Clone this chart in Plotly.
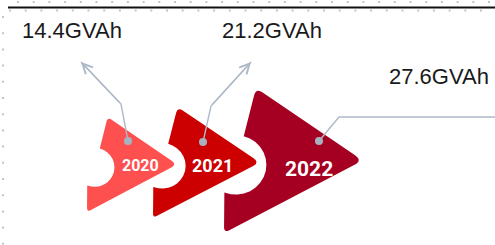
import numpy as np
import plotly.graph_objects as go

# ---------------- data ----------------
years = ["2020", "2021", "2022"]
capacity_gvah = [14.4, 21.2, 27.6]
unit = "GVAh"

# ---------------- style / layout ----------------
W, H = 495, 245
fill_colors = ["#FF5050", "#CC0000", "#A50021"]
boxes = [(87, 117, 90, 95), (153, 107, 107, 111), (224, 88, 139, 145)]  # x0, y0, w, h
halo = [3, 4, 5]
year_font_size = [16, 18, 21]
year_pos = [(140, 165), (212, 165), (309, 168.5)]
label_pos = [(72, 30), (272, 30), (439, 76.5)]
dot_pos = [(128, 141), (203, 142), (319, 141)]
bend_pos = [(121, 104), (211, 106), (339, 117)]
end_pos = [(81, 62), (251, 62), (495, 117)]
has_arrow = [True, True, False]
leader_color = "#AEB9C8"

# chevron template in box fractions
APEX = (0.23, 0.0)
TIP = (1.0, 0.50)
FOOT = (0.0, 1.0)
NOTCH_C = (0.085, 0.53)
NOTCH_R = (0.22, 0.205)
NOTCH_ANG = (-75.0, 112.0)


def P(b, fr):
    x0, y0, w, h = b
    return np.array([x0 + fr[0] * w, y0 + fr[1] * h])


def toward(p, q, r):
    d = q - p
    L = float(np.hypot(*d))
    return p + d * min(r / L, 0.45)


def f(p):
    return f"{p[0]:.2f},{p[1]:.2f}"


def chevron_path(b):
    x0, y0, w, h = b
    A, D, C = P(b, APEX), P(b, TIP), P(b, FOOT)
    c = P(b, NOTCH_C)
    rx, ry = NOTCH_R[0] * w, NOTCH_R[1] * h
    angs = np.radians(np.linspace(NOTCH_ANG[1], NOTCH_ANG[0], 16))
    arc = [np.array([c[0] + rx * np.cos(a), c[1] + ry * np.sin(a)]) for a in angs]
    N3, N1 = arc[0], arc[-1]
    s = w / 139.0
    rA, rD, rC = 8 * s, 10 * s, 6 * s
    start = toward(A, D, rA)
    parts = [
        "M" + f(start),
        "L" + f(toward(D, A, rD)),
        "Q" + f(D) + " " + f(toward(D, C, rD)),
        "L" + f(toward(C, D, rC)),
        "Q" + f(C) + " " + f(toward(C, N3, rC)),
    ]
    parts += ["L" + f(p) for p in arc]
    parts += [
        "L" + f(toward(A, N1, rA)),
        "Q" + f(A) + " " + f(start),
        "Z",
    ]
    return " ".join(parts)


fig = go.Figure()
shapes = []

# background guide dots
dot_x, dot_y = [], []
for x in np.arange(18, W, 15.7):
    dot_x.append(x); dot_y.append(2)
for x in np.arange(10, W, 15.7):
    dot_x.append(x); dot_y.append(10.5)
for y in np.arange(17, H, 16.2):
    dot_x.append(3); dot_y.append(y)
fig.add_trace(go.Scatter(x=dot_x, y=dot_y, mode="markers",
                         marker=dict(symbol="square", size=2, color="#C4C4C4"),
                         hoverinfo="skip", showlegend=False))

# top black rule
shapes.append(dict(type="line", xref="x", yref="y", x0=8, x1=W, y0=7.5, y1=7.5,
                   line=dict(color="#111111", width=2), layer="below"))

# chevrons
for i, yr in enumerate(years):
    path = chevron_path(boxes[i])
    shapes.append(dict(type="path", xref="x", yref="y", path=path,
                       fillcolor="white", line=dict(color="white", width=2 * halo[i]),
                       layer="below"))
    shapes.append(dict(type="path", xref="x", yref="y", path=path,
                       fillcolor=fill_colors[i], line=dict(width=0), layer="below"))

# leader lines
for i in range(len(years)):
    xs = [dot_pos[i][0], bend_pos[i][0], end_pos[i][0]]
    ys = [dot_pos[i][1], bend_pos[i][1], end_pos[i][1]]
    fig.add_trace(go.Scatter(x=xs, y=ys, mode="lines",
                             line=dict(color=leader_color, width=1.4),
                             hoverinfo="skip", showlegend=False))
fig.add_trace(go.Scatter(x=[p[0] for p in dot_pos], y=[p[1] for p in dot_pos],
                         mode="markers", marker=dict(size=8, color="#A7B2C0"),
                         hoverinfo="skip", showlegend=False))

annotations = []
for i in range(len(years)):
    if has_arrow[i]:
        annotations.append(dict(x=end_pos[i][0], y=end_pos[i][1], xref="x", yref="y",
                                ax=bend_pos[i][0], ay=bend_pos[i][1], axref="x", ayref="y",
                                text="", showarrow=True, arrowhead=5, arrowsize=1.4,
                                arrowwidth=1.4, arrowcolor=leader_color))
    annotations.append(dict(x=label_pos[i][0], y=label_pos[i][1], xref="x", yref="y",
                            text=f"{capacity_gvah[i]}{unit}", showarrow=False,
                            font=dict(family="Liberation Sans, Arial, sans-serif", size=22,
                                      color="#1A1A1A")))
    annotations.append(dict(x=year_pos[i][0], y=year_pos[i][1], xref="x", yref="y",
                            text=f"<b>{years[i]}</b>", showarrow=False,
                            font=dict(family="Roboto, Arial, sans-serif",
                                      size=year_font_size[i], color="white")))

fig.update_layout(
    width=W, height=H,
    margin=dict(l=0, r=0, t=0, b=0),
    paper_bgcolor="white", plot_bgcolor="white",
    xaxis=dict(range=[0, W], visible=False, fixedrange=True),
    yaxis=dict(range=[H, 0], visible=False, fixedrange=True),
    shapes=shapes, annotations=annotations, showlegend=False,
)

fig.write_html(
    "out.html",
    config={"displayModeBar": False},
    post_script="document.body.style.margin='0';document.body.style.padding='0';"
                "document.body.style.overflow='hidden';",
)
